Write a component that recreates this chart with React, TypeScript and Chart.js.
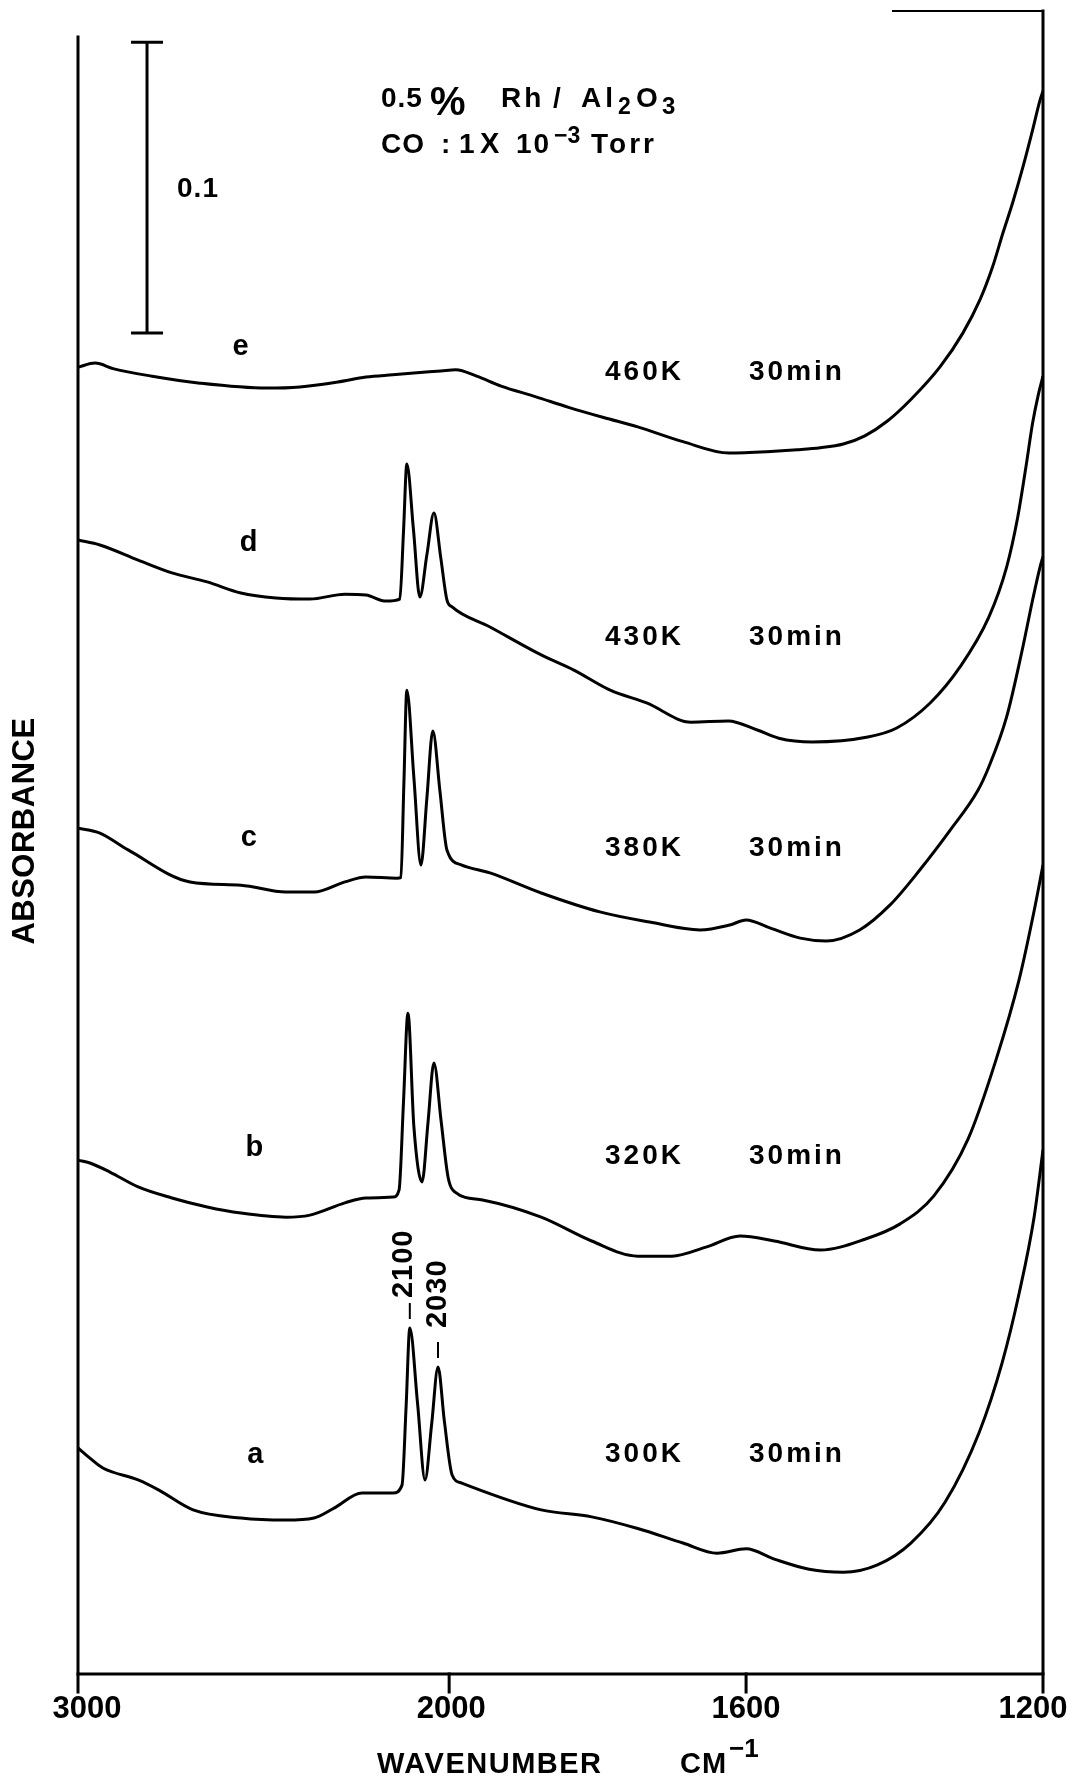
import React, { useEffect, useRef } from "react";
import { Chart, registerables } from "chart.js";

Chart.register(...registerables);

// ---------- data ----------
const X_TICKS = [3000, 2000, 1600, 1200];
const Y_MIN = 0;
const Y_MAX = 0.5715;

// Spectrum a : 300 K, 30 min
const WN_A = [3000, 2968, 2933, 2838, 2782, 2690, 2561, 2440, 2364, 2310, 2235, 2151, 2127, 2116, 2106, 2085, 2065, 2047, 2030, 2013, 1996, 1983, 1876, 1808, 1746, 1685, 1639, 1600, 1562, 1515, 1469, 1423, 1378, 1332, 1286, 1255, 1232, 1212, 1200];
const ABS_A = [0.0777, 0.0742, 0.0708, 0.0667, 0.0632, 0.0564, 0.0536, 0.0529, 0.0536, 0.057, 0.0622, 0.0622, 0.0649, 0.0919, 0.1189, 0.0928, 0.0667, 0.0861, 0.1055, 0.087, 0.0684, 0.0656, 0.0564, 0.054, 0.05, 0.045, 0.0415, 0.043, 0.0395, 0.036, 0.035, 0.0375, 0.045, 0.059, 0.083, 0.107, 0.131, 0.157, 0.1801];

// Spectrum b : 320 K, 30 min
const WN_B = [3000, 2968, 2914, 2838, 2747, 2652, 2561, 2440, 2375, 2281, 2224, 2151, 2135, 2123, 2111, 2095, 2073, 2057, 2041, 2022, 2003, 1992, 1955, 1876, 1808, 1746, 1700, 1654, 1608, 1562, 1500, 1439, 1393, 1347, 1301, 1263, 1232, 1212, 1200];
const ABS_B = [0.1766, 0.1756, 0.1725, 0.1674, 0.1636, 0.1605, 0.1584, 0.157, 0.1577, 0.1619, 0.1636, 0.1639, 0.1663, 0.1967, 0.2271, 0.188, 0.1691, 0.1895, 0.21, 0.1904, 0.1708, 0.1656, 0.1629, 0.157, 0.1488, 0.1436, 0.1436, 0.1467, 0.1505, 0.1488, 0.1457, 0.1495, 0.1546, 0.1643, 0.1838, 0.2113, 0.2388, 0.2622, 0.278];

// Spectrum c : 380 K, 30 min
const WN_C = [3000, 2941, 2865, 2698, 2561, 2440, 2364, 2281, 2224, 2141, 2130, 2122, 2114, 2095, 2076, 2060, 2044, 2025, 2006, 1983, 1945, 1876, 1797, 1730, 1662, 1622, 1600, 1568, 1527, 1492, 1447, 1406, 1366, 1325, 1288, 1273, 1249, 1228, 1214, 1204, 1200];
const ABS_C = [0.2907, 0.289, 0.2832, 0.2722, 0.2711, 0.2687, 0.2687, 0.2722, 0.2739, 0.2735, 0.2737, 0.3058, 0.3381, 0.308, 0.278, 0.301, 0.3241, 0.3036, 0.2832, 0.278, 0.2753, 0.2684, 0.2619, 0.2584, 0.2557, 0.2574, 0.2591, 0.2564, 0.2529, 0.2519, 0.2557, 0.2643, 0.2763, 0.29, 0.3035, 0.3117, 0.3289, 0.3519, 0.3691, 0.3804, 0.384];

// Spectrum d : 430 K, 30 min
const WN_D = [3000, 2941, 2838, 2747, 2652, 2561, 2467, 2375, 2281, 2224, 2170, 2133, 2123, 2114, 2096, 2079, 2060, 2041, 2023, 2006, 1996, 1945, 1876, 1832, 1783, 1734, 1674, 1624, 1585, 1556, 1511, 1436, 1397, 1352, 1312, 1273, 1249, 1234, 1223, 1214, 1206, 1200];
const ABS_D = [0.3897, 0.388, 0.3828, 0.3784, 0.3753, 0.3715, 0.3698, 0.3694, 0.3711, 0.3708, 0.3687, 0.3694, 0.3926, 0.4158, 0.393, 0.3701, 0.3846, 0.399, 0.384, 0.3691, 0.3667, 0.3598, 0.3502, 0.345, 0.3381, 0.3337, 0.3271, 0.3275, 0.3244, 0.3216, 0.3203, 0.322, 0.3251, 0.3337, 0.346, 0.3632, 0.3804, 0.3976, 0.4148, 0.4299, 0.44, 0.446];

// Spectrum e : 460 K, 30 min
const WN_E = [3000, 2954, 2903, 2800, 2671, 2491, 2402, 2300, 2224, 2152, 2095, 2022, 1991, 1963, 1930, 1884, 1838, 1792, 1746, 1685, 1623, 1562, 1531, 1500, 1469, 1440, 1410, 1378, 1339, 1308, 1285, 1268, 1254, 1241, 1227, 1215, 1204, 1200];
const ABS_E = [0.4491, 0.4505, 0.4485, 0.446, 0.4436, 0.4419, 0.4423, 0.444, 0.4457, 0.4465, 0.4471, 0.4478, 0.4482, 0.446, 0.4426, 0.439, 0.4352, 0.4318, 0.4286, 0.4235, 0.4196, 0.4202, 0.4207, 0.4214, 0.4227, 0.4255, 0.4305, 0.438, 0.4491, 0.4608, 0.4722, 0.4835, 0.4952, 0.5055, 0.5179, 0.5296, 0.5409, 0.544];

const CURVE_LETTERS = ["a", "b", "c", "d", "e"];
const TEMPERATURES = ["300K", "320K", "380K", "430K", "460K"];
const TIMES = ["30min", "30min", "30min", "30min", "30min"];

const PEAK_LABELS = ["2100", "2030"];
const PEAK_WN = [2106, 2030];

const SCALE_BAR_WN = 2814;
const SCALE_BAR_BASE = 0.4608;
const SCALE_BAR_SIZE = 0.1;
const SCALE_BAR_LABEL = "0.1";

const TITLE_LINE1 = ["0.5", "%", "Rh", "/", "Al", "2", "O", "3"];
const TITLE_LINE2 = ["CO", ":", "1", "X", "10", "−3", "Torr"];
const X_TITLE = ["WAVENUMBER", "CM", "−1"];
const Y_TITLE = "ABSORBANCE";

// ---------- helpers ----------
const toU = (wn: number) => (wn >= 2000 ? 3000 - wn : 1000 + 2 * (2000 - wn));
const FONT = "'Liberation Sans', Arial, Helvetica, sans-serif";

const SPECTRA = [
  { wn: WN_A, abs: ABS_A },
  { wn: WN_B, abs: ABS_B },
  { wn: WN_C, abs: ABS_C },
  { wn: WN_D, abs: ABS_D },
  { wn: WN_E, abs: ABS_E },
];

function txt(
  ctx: CanvasRenderingContext2D,
  s: string,
  x: number,
  y: number,
  size: number,
  o: { ls?: number; align?: CanvasTextAlign; base?: CanvasTextBaseline; rot?: number } = {}
) {
  ctx.save();
  ctx.font = `bold ${size}px ${FONT}`;
  (ctx as any).letterSpacing = `${o.ls ?? 0}px`;
  ctx.textAlign = o.align ?? "left";
  ctx.textBaseline = o.base ?? "alphabetic";
  ctx.fillStyle = "#000";
  ctx.translate(x, y);
  if (o.rot) ctx.rotate(o.rot);
  ctx.fillText(s, 0, 0);
  ctx.restore();
}

const decorPlugin = {
  id: "decor",
  beforeDraw(chart: any) {
    const ctx = chart.ctx;
    ctx.save();
    ctx.fillStyle = "#fff";
    ctx.fillRect(0, 0, chart.width, chart.height);
    ctx.restore();
  },
  afterDraw(chart: any) {
    const ctx: CanvasRenderingContext2D = chart.ctx;
    const ca = chart.chartArea;
    const xs = chart.scales.x;
    const ys = chart.scales.y;
    const px = (wn: number) => xs.getPixelForValue(toU(wn));
    const py = (v: number) => ys.getPixelForValue(v);

    ctx.save();
    ctx.strokeStyle = "#000";
    ctx.lineWidth = 3;
    ctx.lineCap = "square";
    ctx.beginPath();
    ctx.moveTo(ca.left, ca.bottom);
    ctx.lineTo(ca.right, ca.bottom);
    ctx.moveTo(ca.left, ca.top + 26);
    ctx.lineTo(ca.left, ca.bottom);
    ctx.moveTo(ca.right, ca.top);
    ctx.lineTo(ca.right, ca.bottom);
    ctx.stroke();
    ctx.lineWidth = 2;
    ctx.beginPath();
    ctx.moveTo(ca.right - 150, ca.top);
    ctx.lineTo(ca.right, ca.top);
    ctx.stroke();
    // ticks
    ctx.lineWidth = 3;
    ctx.beginPath();
    X_TICKS.forEach((t) => {
      ctx.moveTo(px(t), ca.bottom);
      ctx.lineTo(px(t), ca.bottom + 18);
    });
    ctx.stroke();
    ctx.restore();

    const shift = [9, 2, 0, -10];
    X_TICKS.forEach((t, i) => {
      txt(ctx, String(t), px(t) + shift[i], ca.bottom + 35, 31, { align: "center", base: "middle" });
    });

    // axis titles
    txt(ctx, X_TITLE[0], 377, ca.bottom + 99, 29, { ls: 1.5 });
    txt(ctx, X_TITLE[1], 680, ca.bottom + 99, 29, { ls: 1 });
    txt(ctx, X_TITLE[2], 729, ca.bottom + 83, 26, { ls: 0 });
    txt(ctx, Y_TITLE, 25, 831, 31, { align: "center", base: "middle", rot: -Math.PI / 2, ls: 0.5 });

    // scale bar label
    const sbMid = py(SCALE_BAR_BASE + SCALE_BAR_SIZE / 2);
    txt(ctx, SCALE_BAR_LABEL, px(SCALE_BAR_WN) + 30, sbMid + 2, 28, { base: "middle", ls: 1 });

    // title
    const b1 = 107;
    txt(ctx, TITLE_LINE1[0], 381, b1, 28, { ls: 1 });
    txt(ctx, TITLE_LINE1[1], 430, b1 + 8, 40, {});
    txt(ctx, TITLE_LINE1[2], 501, b1, 28, { ls: 3 });
    txt(ctx, TITLE_LINE1[3], 553, b1, 28, {});
    txt(ctx, TITLE_LINE1[4], 581, b1, 28, { ls: 4 });
    txt(ctx, TITLE_LINE1[5], 618, b1 + 7, 23, {});
    txt(ctx, TITLE_LINE1[6], 636, b1, 28, {});
    txt(ctx, TITLE_LINE1[7], 662, b1 + 7, 24, {});
    const b2 = 153;
    txt(ctx, TITLE_LINE2[0], 381, b2, 28, { ls: 1 });
    txt(ctx, TITLE_LINE2[1], 441, b2, 28, {});
    txt(ctx, TITLE_LINE2[2], 459, b2, 28, {});
    txt(ctx, TITLE_LINE2[3], 480, b2, 29, {});
    txt(ctx, TITLE_LINE2[4], 516, b2, 28, { ls: 2 });
    txt(ctx, TITLE_LINE2[5], 554, b2 - 10, 23, {});
    txt(ctx, TITLE_LINE2[6], 591, b2, 28, { ls: 3 });

    // curve labels
    const letterY = [0.0753, 0.1808, 0.2873, 0.3887, 0.4559];
    const letterWn = [2522, 2525, 2540, 2540, 2562];
    const tempY = [0.0756, 0.178, 0.2838, 0.3564, 0.4474];
    CURVE_LETTERS.forEach((l, i) => {
      txt(ctx, l, px(letterWn[i]), py(letterY[i]), 29, { align: "center", base: "middle" });
      txt(ctx, TEMPERATURES[i], px(1790), py(tempY[i]), 28, { base: "middle", ls: 3 });
      txt(ctx, TIMES[i], px(1596), py(tempY[i]), 28, { base: "middle", ls: 3 });
    });

    // peak annotations on spectrum a
    const dx = [-6, 0];
    const gap = [30, 39];
    ctx.save();
    ctx.strokeStyle = "#000";
    ctx.lineWidth = 2;
    PEAK_WN.forEach((wn) => {
      const idx = WN_A.indexOf(wn);
      const yp = py(ABS_A[idx]);
      const x = px(wn);
      ctx.beginPath();
      ctx.moveTo(x, yp - 9);
      ctx.lineTo(x, yp - 25);
      ctx.stroke();
    });
    ctx.restore();
    PEAK_WN.forEach((wn, i) => {
      const idx = WN_A.indexOf(wn);
      const yp = py(ABS_A[idx]);
      txt(ctx, PEAK_LABELS[i], px(wn) + dx[i], yp - gap[i], 29, { base: "middle", rot: -Math.PI / 2, ls: 1 });
    });
  },
};

export default function App() {
  const ref = useRef<HTMLCanvasElement | null>(null);
  useEffect(() => {
    if (!ref.current) return;
    const datasets: any[] = SPECTRA.map((s) => ({
      data: s.wn.map((w, i) => ({ x: toU(w), y: s.abs[i] })),
      borderColor: "#000",
      borderWidth: 3,
      pointRadius: 0,
      cubicInterpolationMode: "monotone",
      fill: false,
    }));
    datasets.push({
      data: [
        { x: toU(SCALE_BAR_WN), y: SCALE_BAR_BASE },
        { x: toU(SCALE_BAR_WN), y: SCALE_BAR_BASE + SCALE_BAR_SIZE },
      ],
      borderColor: "#000",
      borderWidth: 3,
      pointStyle: "line",
      pointRadius: 16,
      pointBorderWidth: 3,
      pointBorderColor: "#000",
      fill: false,
    });
    const chart = new Chart(ref.current, {
      type: "line",
      data: { datasets },
      options: {
        responsive: false,
        animation: false,
        events: [],
        layout: { autoPadding: false, padding: { left: 78, right: 32, top: 11, bottom: 111 } },
        scales: {
          x: { type: "linear", min: 0, max: toU(1200), display: false },
          y: { type: "linear", min: Y_MIN, max: Y_MAX, display: false },
        },
        plugins: { legend: { display: false }, tooltip: { enabled: false } },
      },
      plugins: [decorPlugin],
    });
    return () => chart.destroy();
  }, []);
  return (
    <div style={{ position: "absolute", left: 0, top: 0, width: 1075, height: 1785, background: "#fff" }}>
      <canvas ref={ref} width={1075} height={1785} style={{ display: "block" }} />
    </div>
  );
}
